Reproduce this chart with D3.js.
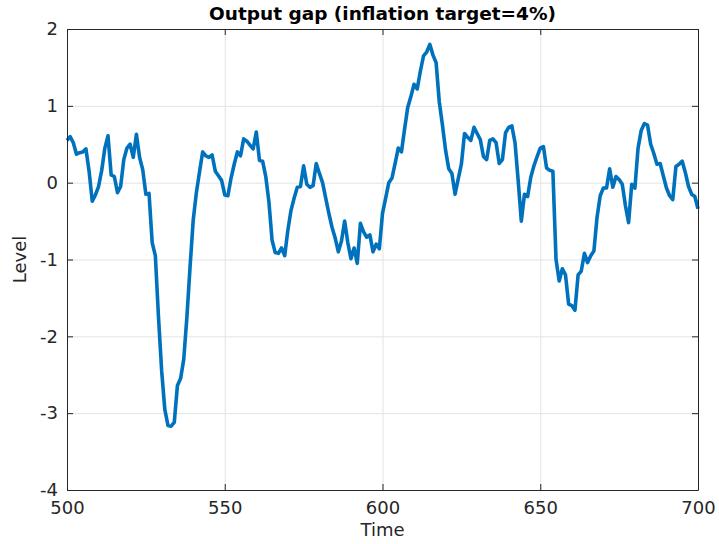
<!DOCTYPE html>
<html>
<head>
<meta charset="utf-8">
<script src="https://cdn.jsdelivr.net/npm/d3@7"></script>
<style>
  body { margin: 0; background: #ffffff; }
  .tick text { font-family: "DejaVu Sans", sans-serif; font-size: 18px; fill: #262626; }
  .axis-label { font-family: "DejaVu Sans", sans-serif; font-size: 18px; fill: #262626; }
  .title { font-family: "DejaVu Sans", sans-serif; font-size: 18.5px; font-weight: bold; fill: #000; }
</style>
</head>
<body>
<div id="chart"></div>
<script>
// time axis runs 500..700, one value per step
var t_start = 500;
var gap_values = [
  0.55, 0.60, 0.52, 0.37, 0.39, 0.40, 0.44, 0.15, -0.24, -0.16,
  -0.05, 0.16, 0.45, 0.61, 0.10, 0.08, -0.13, -0.05, 0.30, 0.45,
  0.50, 0.33, 0.63, 0.33, 0.17, -0.15, -0.14, -0.78, -0.95, -1.75,
  -2.45, -2.95, -3.16, -3.17, -3.12, -2.64, -2.55, -2.30, -1.75, -1.10,
  -0.49, -0.13, 0.14, 0.40, 0.35, 0.33, 0.36, 0.15, 0.09, 0.03,
  -0.16, -0.17, 0.06, 0.24, 0.40, 0.35, 0.57, 0.54, 0.49, 0.44,
  0.66, 0.29, 0.28, 0.08, -0.25, -0.75, -0.91, -0.92, -0.85, -0.95,
  -0.62, -0.36, -0.20, -0.06, -0.05, 0.22, -0.02, -0.06, -0.04, 0.25,
  0.12, 0.00, -0.20, -0.40, -0.58, -0.72, -0.90, -0.76, -0.50, -0.78,
  -0.99, -0.85, -1.05, -0.53, -0.64, -0.71, -0.68, -0.90, -0.80, -0.86,
  -0.40, -0.20, 0.00, 0.06, 0.25, 0.45, 0.40, 0.70, 0.98, 1.12,
  1.28, 1.22, 1.45, 1.65, 1.70, 1.80, 1.66, 1.56, 1.05, 0.75,
  0.42, 0.18, 0.12, -0.15, 0.05, 0.24, 0.64, 0.59, 0.55, 0.72,
  0.64, 0.56, 0.34, 0.30, 0.55, 0.57, 0.52, 0.25, 0.30, 0.65,
  0.72, 0.74, 0.52, 0.03, -0.50, -0.15, -0.18, 0.07, 0.22, 0.34,
  0.45, 0.47, 0.19, 0.16, 0.15, -1.00, -1.28, -1.12, -1.20, -1.58,
  -1.60, -1.66, -1.20, -1.15, -0.92, -1.04, -0.95, -0.89, -0.45, -0.17,
  -0.07, -0.07, 0.18, -0.06, 0.08, 0.04, -0.02, -0.30, -0.52, -0.02,
  -0.07, 0.45, 0.68, 0.77, 0.75, 0.50, 0.38, 0.24, 0.25, 0.09,
  -0.07, -0.17, -0.22, 0.21, 0.24, 0.28, 0.13, -0.05, -0.15, -0.18,
  -0.34
];
var x_ticks = [500, 550, 600, 650, 700];
var y_ticks = [-4, -3, -2, -1, 0, 1, 2];

// set the dimensions and margins of the graph
var margin = {top: 29, right: 21, bottom: 54, left: 67},
    width = 719 - margin.left - margin.right,
    height = 544 - margin.top - margin.bottom;

var Svg = d3.select("#chart")
  .append("svg")
    .attr("width", width + margin.left + margin.right)
    .attr("height", height + margin.top + margin.bottom)
  .append("g")
    .attr("transform", "translate(" + margin.left + "," + margin.top + ")");

var x_scale = d3.scaleLinear().domain([500, 700]).range([0, width]);
var y_scale = d3.scaleLinear().domain([-4, 2]).range([height, 0]);
var plain = function(d){ return String(d); };   // keep "-4", not the unicode minus

// grid
Svg.append("g")
  .call(d3.axisBottom(x_scale).tickValues(x_ticks).tickSize(height).tickFormat(""))
  .call(function(g){ g.select(".domain").remove(); })
  .selectAll("line").attr("class", "grid").attr("stroke", "#e3e3e3");
Svg.append("g")
  .call(d3.axisLeft(y_scale).tickValues(y_ticks).tickSize(-width).tickFormat(""))
  .call(function(g){ g.select(".domain").remove(); })
  .selectAll("line").attr("class", "grid").attr("stroke", "#e3e3e3");

// the series
var line = d3.line()
  .x(function(d, i){ return x_scale(t_start + i); })
  .y(function(d){ return y_scale(d); });
Svg.append("path")
  .datum(gap_values)
  .attr("fill", "none")
  .attr("stroke", "#0072BD")
  .attr("stroke-width", 3.6)
  .attr("stroke-linejoin", "round")
  .attr("d", line);

// box axes with inward ticks
var tick_len = 6;
Svg.append("g")
  .attr("class", "box")
  .attr("transform", "translate(0," + height + ")")
  .call(d3.axisBottom(x_scale).tickValues(x_ticks).tickFormat(plain)
        .tickSizeInner(-tick_len).tickSizeOuter(0).tickPadding(11));
Svg.append("g")
  .attr("class", "box")
  .call(d3.axisLeft(y_scale).tickValues(y_ticks).tickFormat(plain)
        .tickSizeInner(-tick_len).tickSizeOuter(0).tickPadding(9));
Svg.append("g")
  .attr("class", "box")
  .call(d3.axisTop(x_scale).tickValues(x_ticks).tickSizeInner(-tick_len).tickSizeOuter(0).tickFormat(""));
Svg.append("g")
  .attr("class", "box")
  .attr("transform", "translate(" + width + ",0)")
  .call(d3.axisRight(y_scale).tickValues(y_ticks).tickSizeInner(-tick_len).tickSizeOuter(0).tickFormat(""));
Svg.selectAll(".box .domain").attr("stroke", "#262626").attr("stroke-width", 1);
Svg.selectAll(".box .tick line").attr("stroke", "#262626");

// labels
Svg.append("text")
  .attr("class", "title")
  .attr("text-anchor", "middle")
  .attr("x", width / 2)
  .attr("y", -9)
  .text("Output gap (inflation target=4%)");

Svg.append("text")
  .attr("class", "axis-label")
  .attr("text-anchor", "middle")
  .attr("x", width / 2)
  .attr("y", height + 46)
  .text("Time");

Svg.append("text")
  .attr("class", "axis-label")
  .attr("text-anchor", "middle")
  .attr("transform", "rotate(-90)")
  .attr("x", -y_scale(-1))
  .attr("y", -41)
  .text("Level");
</script>
</body>
</html>
